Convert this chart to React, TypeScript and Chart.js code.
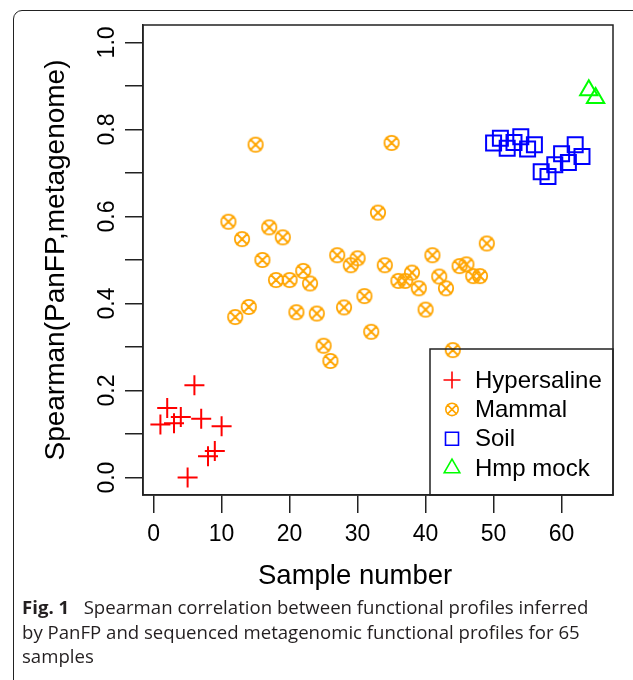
import React, { useEffect, useRef } from 'react';
import { Chart, registerables } from 'chart.js';

Chart.register(...registerables);

// ---------- data ----------
const seriesNames = ['Hypersaline', 'Mammal', 'Soil', 'Hmp mock'];

const hypersalineX = [1, 2, 3, 4, 5, 6, 7, 8, 9, 10];
const hypersalineY = [0.122, 0.16, 0.125, 0.139, 0.0, 0.212, 0.135, 0.049, 0.061, 0.118];

const mammalX = [11, 12, 13, 14, 15, 16, 17, 18, 19, 20, 21, 22, 23, 24, 25, 26, 27, 28, 29, 30,
  31, 32, 33, 34, 35, 36, 37, 38, 39, 40, 41, 42, 43, 44, 45, 46, 47, 48, 49];
const mammalY = [0.588, 0.369, 0.548, 0.392, 0.765, 0.5, 0.575, 0.454, 0.552, 0.454,
  0.38, 0.475, 0.446, 0.377, 0.303, 0.268, 0.511, 0.391, 0.488, 0.504,
  0.417, 0.335, 0.609, 0.488, 0.769, 0.452, 0.452, 0.471, 0.435, 0.386,
  0.511, 0.462, 0.435, 0.293, 0.486, 0.49, 0.463, 0.463, 0.538];

const soilX = [50, 51, 52, 53, 54, 55, 56, 57, 58, 59, 60, 61, 62, 63];
const soilY = [0.769, 0.78, 0.757, 0.77, 0.783, 0.755, 0.765, 0.703, 0.692, 0.719, 0.744, 0.724, 0.765, 0.738];

const hmpX = [64, 65];
const hmpY = [0.89, 0.872];

const xTicks = [0, 10, 20, 30, 40, 50, 60];
const yTicks = [0, 0.1, 0.2, 0.3, 0.4, 0.5, 0.6, 0.7, 0.8, 0.9, 1.0];
const yLabelled = ['0.0', '0.2', '0.4', '0.6', '0.8', '1.0'];

const xTitle = 'Sample number';
const yTitle = 'Spearman(PanFP,metagenome)';

const captionBold = 'Fig. 1';
const captionLines = [
  'Spearman correlation between functional profiles inferred',
  'by PanFP and sequenced metagenomic functional profiles for 65',
  'samples',
];

// ---------- styling ----------
const FONT = '"Liberation Sans", Arial, Helvetica, sans-serif';
const colors = ['#FF0000', '#FFA500', '#0000FF', '#00FF00'];
const kinds = ['cross', 'circx', 'square', 'triangle'];

function drawMarker(ctx: CanvasRenderingContext2D, kind: string, x: number, y: number, s: number, color: string, lw: number) {
  ctx.save();
  ctx.strokeStyle = color;
  ctx.lineWidth = lw;
  ctx.beginPath();
  if (kind === 'cross') {
    ctx.moveTo(x - s, y); ctx.lineTo(x + s, y);
    ctx.moveTo(x, y - s); ctx.lineTo(x, y + s);
  } else if (kind === 'circx') {
    ctx.arc(x, y, s, 0, Math.PI * 2);
    const d = s * 0.8;
    ctx.moveTo(x - d, y - d); ctx.lineTo(x + d, y + d);
    ctx.moveTo(x + d, y - d); ctx.lineTo(x - d, y + d);
  } else if (kind === 'square') {
    ctx.rect(x - s, y - s, 2 * s, 2 * s);
  } else {
    const r = s;
    ctx.moveTo(x, y - r);
    ctx.lineTo(x + r * Math.sin(2 * Math.PI / 3), y - r * Math.cos(2 * Math.PI / 3));
    ctx.lineTo(x + r * Math.sin(4 * Math.PI / 3), y - r * Math.cos(4 * Math.PI / 3));
    ctx.closePath();
  }
  ctx.stroke();
  ctx.restore();
}

function makeCircX(r: number, lw: number): HTMLCanvasElement {
  const c = document.createElement('canvas');
  const size = Math.ceil(2 * r + 2 * lw + 2);
  c.width = size; c.height = size;
  const ctx = c.getContext('2d')!;
  drawMarker(ctx, 'circx', size / 2, size / 2, r, colors[1], lw);
  return c;
}

export default function App() {
  const ref = useRef<HTMLCanvasElement>(null);

  useEffect(() => {
    const canvas = ref.current!;
    const circX = makeCircX(7.2, 1.8);

    const boxPlugin = {
      id: 'rbox',
      afterDraw(chart: any) {
        const { ctx, chartArea: a } = chart;
        ctx.save();
        ctx.strokeStyle = '#222';
        ctx.lineWidth = 1.5;
        ctx.strokeRect(a.left, a.top, a.right - a.left, a.bottom - a.top);
        ctx.restore();
      },
    };

    const legendPlugin = {
      id: 'rlegend',
      afterDraw(chart: any) {
        const { ctx, chartArea: a } = chart;
        const w = 183, h = 146;
        const left = a.right - w, top = a.bottom - h;
        ctx.save();
        ctx.strokeStyle = '#222';
        ctx.lineWidth = 1.5;
        ctx.strokeRect(left, top, w, h);
        const sizes = [8.5, 6.2, 6.5, 9];
        ctx.font = `24px ${FONT}`;
        ctx.fillStyle = '#000';
        ctx.textBaseline = 'middle';
        ctx.textAlign = 'left';
        seriesNames.forEach((name, i) => {
          const cy = top + 31 + i * 29.4;
          drawMarker(ctx, kinds[i], left + 22, cy, sizes[i], colors[i], 1.6);
          ctx.fillText(name, left + 45, cy + 1);
        });
        ctx.restore();
      },
    };

    const mk = (xs: number[], ys: number[]) => xs.map((x, i) => ({ x, y: ys[i] }));

    const chart = new Chart(canvas, {
      type: 'scatter',
      data: {
        datasets: [
          { label: seriesNames[0], data: mk(hypersalineX, hypersalineY), pointStyle: 'cross', pointRadius: 10, pointBorderColor: colors[0], pointBackgroundColor: 'transparent', pointBorderWidth: 2 },
          { label: seriesNames[1], data: mk(mammalX, mammalY), pointStyle: circX as any, pointRadius: 7, pointBorderColor: colors[1], pointBackgroundColor: 'transparent', pointBorderWidth: 2 },
          { label: seriesNames[2], data: mk(soilX, soilY), pointStyle: 'rect', pointRadius: 10.6, pointBorderColor: colors[2], pointBackgroundColor: 'transparent', pointBorderWidth: 2 },
          { label: seriesNames[3], data: mk(hmpX, hmpY), pointStyle: 'triangle', pointRadius: 10, pointBorderColor: colors[3], pointBackgroundColor: 'transparent', pointBorderWidth: 2 },
        ] as any,
      },
      options: {
        animation: false,
        responsive: false,
        devicePixelRatio: 1,
        layout: { padding: { left: 0, right: 20, top: 25, bottom: 0 } },
        plugins: { legend: { display: false }, tooltip: { enabled: false } },
        scales: {
          x: {
            type: 'linear',
            min: -1.56,
            max: 67.56,
            afterBuildTicks: (s: any) => { s.ticks = xTicks.map((v) => ({ value: v })); },
            afterFit: (s: any) => { s.height = 100; },
            ticks: { autoSkip: false, maxRotation: 0, minRotation: 0, padding: 8, color: '#000', font: { family: FONT, size: 23 }, callback: (v: any) => String(v) },
            grid: { drawOnChartArea: false, drawTicks: true, tickLength: 18, color: '#222', lineWidth: 1.5 },
            border: { display: true, color: '#222', width: 1.5 },
            title: { display: true, text: xTitle + '      ', color: '#000', font: { family: FONT, size: 27.5 }, padding: { top: 0, bottom: 2 } },
          },
          y: {
            type: 'linear',
            min: -0.04,
            max: 1.04,
            afterBuildTicks: (s: any) => { s.ticks = yTicks.map((v) => ({ value: v })); },
            afterFit: (s: any) => { s.width = 143; },
            ticks: {
              autoSkip: false, minRotation: 90, maxRotation: 90, crossAlign: 'center', padding: 1, color: '#000',
              font: { family: FONT, size: 23 },
              callback: (v: any) => { const t = Number(v).toFixed(1); return yLabelled.includes(t) ? t : ''; },
            },
            grid: { drawOnChartArea: false, drawTicks: true, tickLength: 18, color: '#222', lineWidth: 1.5 },
            border: { display: true, color: '#222', width: 1.5 },
            title: { display: true, text: yTitle, color: '#000', font: { family: FONT, size: 28 }, padding: { top: 39, bottom: 0 } },
          },
        },
      } as any,
      plugins: [boxPlugin, legendPlugin],
    });
    return () => chart.destroy();
  }, []);

  return (
    <div style={{ position: 'absolute', left: 0, top: 0, width: 633, height: 680, overflow: 'hidden', background: '#fff' }}>
      <div style={{ position: 'absolute', left: 13, top: 10, width: 640, height: 700, border: '1.5px solid #222', borderTopLeftRadius: 9, boxSizing: 'border-box' }} />
      <canvas ref={ref} width={633} height={595} style={{ position: 'absolute', left: 0, top: 0, width: 633, height: 595 }} />
      <div style={{ position: 'absolute', left: 22, top: 595, width: 610, fontFamily: '"Open Sans", "Noto Sans", sans-serif', fontSize: 18.6, lineHeight: '24.5px', color: '#231f20', whiteSpace: 'nowrap' }}>
        <div><b>{captionBold}</b>&nbsp;&nbsp;&nbsp;{captionLines[0]}</div>
        <div>{captionLines[1]}</div>
        <div>{captionLines[2]}</div>
      </div>
    </div>
  );
}
